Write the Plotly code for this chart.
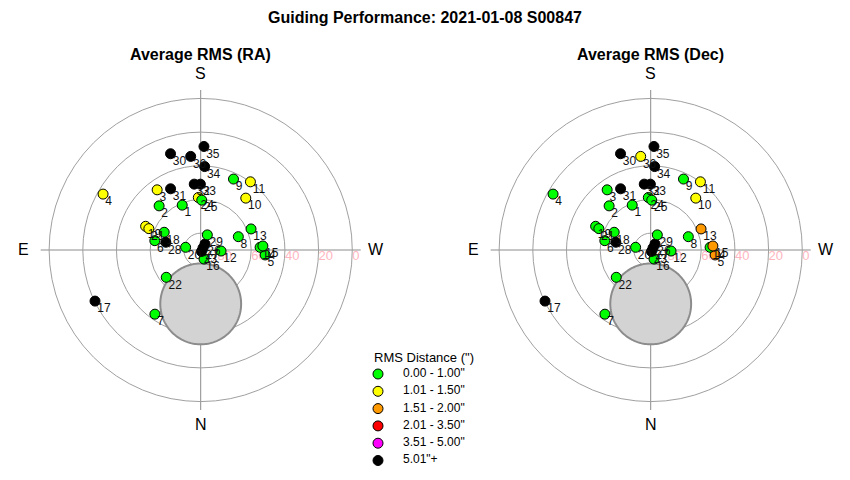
import numpy as np
import plotly.graph_objects as go

# ---------------- data ----------------
star_ids = list(range(1, 37))
azimuth = [157.6, 136.7, 144.1, 119.8, 274.4, 101.5, 35.5, 250.5, 204.8, 221.0,
           216.1, 272.8, 247.3, 267.4, 266.3, 339.9, 64.2, 115.9, 113.3, 100.2,
           112.4, 51.6, 332.0, 177.4, 181.2, 215.6, 229.0, 102.5, 203.7, 162.6,
           153.8, 174.4, 179.7, 182.7, 181.8, 173.9]
altitude = [61.2, 54.0, 45.9, 23.2, 51.6, 62.2, 43.2, 66.3, 43.6, 49.2,
            39.9, 77.9, 57.6, 54.7, 53.0, 84.3, 20.3, 65.9, 54.4, 80.9,
            56.7, 63.9, 89.0, 58.8, 60.4, 85.6, 88.2, 68.8, 80.2, 30.1,
            49.5, 50.7, 50.9, 40.4, 28.5, 34.1]
# RMS bin index (0..5) per star
ra_bin = [0, 0, 1, 1, 0, 0, 0, 0, 0, 1,
          1, 0, 0, 0, 0, 0, 5, 0, 1, 0,
          1, 0, 5, 1, 0, 5, 5, 5, 0, 5,
          5, 5, 5, 5, 5, 5]
dec_bin = [0, 0, 0, 0, 2, 0, 0, 0, 0, 1,
           1, 0, 2, 0, 2, 0, 5, 0, 0, 0,
           0, 0, 5, 0, 0, 5, 5, 5, 0, 5,
           5, 5, 5, 5, 5, 1]
bin_labels = ['0.00 - 1.00"', '1.01 - 1.50"', '1.51 - 2.00"',
              '2.01 - 3.50"', '3.51 - 5.00"', '5.01"+']
ring_alt = [80, 60, 40, 20, 0]
moon_alt, moon_az, moon_size = 58.0, 0.0, 24.0

# ---------------- style / layout geometry ----------------
bin_colors = ['#00ff00', '#ffff00', '#ff9900', '#ff0000', '#ff00ff', '#000000']
FONT = "Liberation Sans, Arial, sans-serif"
OFF = 8                     # page body margin the figure sits inside
FW, FH = 850 - OFF, 480 - OFF
centers = [(200.7, 250.0), (650.7, 250.0)]  # page-pixel centres of the polar plots
RAD = 160.0                                 # pixel radius of polar domain


def PX(x):
    return (x - OFF) / FW


def PY(y):
    return 1 - (y - OFF) / FH


fig = go.Figure()

zd = [90 - a for a in altitude]

# moon / exclusion disc computed from its position and size
t = np.linspace(0, 2 * np.pi, 181)
mz = 90 - moon_alt
cx = mz * np.sin(np.radians(moon_az))
cy = mz * np.cos(np.radians(moon_az))
ex = cx + moon_size * np.cos(t)
ny = cy + moon_size * np.sin(t)
moon_r = np.hypot(ex, ny)
moon_th = np.degrees(np.arctan2(ex, ny)) % 360

for sub, bins in [("polar", ra_bin), ("polar2", dec_bin)]:
    fig.add_trace(go.Scatterpolar(
        r=moon_r, theta=moon_th, mode="lines", fill="toself",
        fillcolor="#d3d3d3", line=dict(color="#8c8c8c", width=2),
        subplot=sub, showlegend=False, hoverinfo="skip"))
    fig.add_trace(go.Scatterpolar(
        r=[90 - a for a in ring_alt], theta=[270] * len(ring_alt),
        text=[str(a) for a in ring_alt], mode="text", textposition="bottom right",
        textfont=dict(family=FONT, size=13, color="#ffb6c1"),
        subplot=sub, showlegend=False, cliponaxis=False, hoverinfo="skip"))
    fig.add_trace(go.Scatterpolar(
        r=zd, theta=azimuth, mode="markers",
        marker=dict(size=10, color=[bin_colors[b] for b in bins],
                    line=dict(color="#000000", width=1)),
        subplot=sub, showlegend=False, cliponaxis=False))
    fig.add_trace(go.Scatterpolar(
        r=zd, theta=azimuth, text=[str(i) for i in star_ids],
        mode="markers+text", textposition="bottom right",
        textfont=dict(family=FONT, size=12, color="#111111"),
        marker=dict(size=2, color="rgba(0,0,0,0)", line=dict(width=0)),
        subplot=sub, showlegend=False, cliponaxis=False, hoverinfo="skip"))

# hand-built legend on a hidden cartesian axis (symbol column 0, text column 1)
n_bins = len(bin_labels)
fig.add_trace(go.Scatter(
    x=[0] * n_bins, y=list(range(n_bins)), mode="markers",
    marker=dict(size=10, color=bin_colors, line=dict(color="#000000", width=1)),
    showlegend=False, hoverinfo="skip", cliponaxis=False))
fig.add_trace(go.Scatter(
    x=[1] * n_bins, y=list(range(n_bins)), mode="text", text=bin_labels,
    textposition="middle right", textfont=dict(family=FONT, size=12, color="black"),
    showlegend=False, hoverinfo="skip", cliponaxis=False))

ITEM = 17.3  # legend row height in pixels
LEG_TOP = 374 - ITEM / 2
LEG_BOT = LEG_TOP + ITEM * n_bins
COL = 25.0   # pixel gap between symbol column and text column
SYM_X = 378.0


def dom(c):
    x, y = c
    return dict(x=[PX(x - RAD), PX(x + RAD)], y=[PY(y + RAD), PY(y - RAD)])


polar_style = dict(
    bgcolor="white",
    radialaxis=dict(range=[0, 95], tickvals=[90 - a for a in ring_alt],
                    showticklabels=False, ticks="", showline=False,
                    gridcolor="#a0a0a0", gridwidth=1),
    angularaxis=dict(rotation=270, direction="clockwise",
                     tickvals=[0, 90, 180, 270], showticklabels=False,
                     ticks="", showline=False, gridcolor="#8c8c8c", gridwidth=1),
)


def ann(text, x, y, size, xanchor="center"):
    return dict(text=text, x=PX(x), y=PY(y), xref="paper", yref="paper",
                xanchor=xanchor, yanchor="middle", showarrow=False,
                font=dict(family=FONT, size=size, color="black"))


annotations = [ann("<b>Guiding Performance: 2021-01-08 S00847</b>", 425, 18, 16)]
for (x, y), name in zip(centers, ["Average RMS (RA)", "Average RMS (Dec)"]):
    annotations.append(ann("<b>%s</b>" % name, x, 55, 16))
    for lab, dx, dy in [("S", 0, -176), ("N", 0, 174), ("E", -177, 0), ("W", 175, 0)]:
        annotations.append(ann(lab, x + dx, y + dy, 16))
annotations.append(ann('RMS Distance (")', 372, 357, 13, xanchor="left"))

fig.update_layout(
    width=FW, height=FH, paper_bgcolor="white", plot_bgcolor="rgba(0,0,0,0)",
    margin=dict(l=0, r=0, t=0, b=0, autoexpand=False),
    polar=dict(domain=dom(centers[0]), **polar_style),
    polar2=dict(domain=dom(centers[1]), **polar_style),
    xaxis=dict(domain=[PX(SYM_X - 0.25 * COL), PX(SYM_X + 1.25 * COL)],
               range=[-0.25, 1.25], visible=False, fixedrange=True),
    yaxis=dict(domain=[PY(LEG_BOT), PY(LEG_TOP)], range=[n_bins - 0.5, -0.5],
               visible=False, fixedrange=True),
    annotations=annotations,
    showlegend=False,
)

fig.write_html("out.html")
